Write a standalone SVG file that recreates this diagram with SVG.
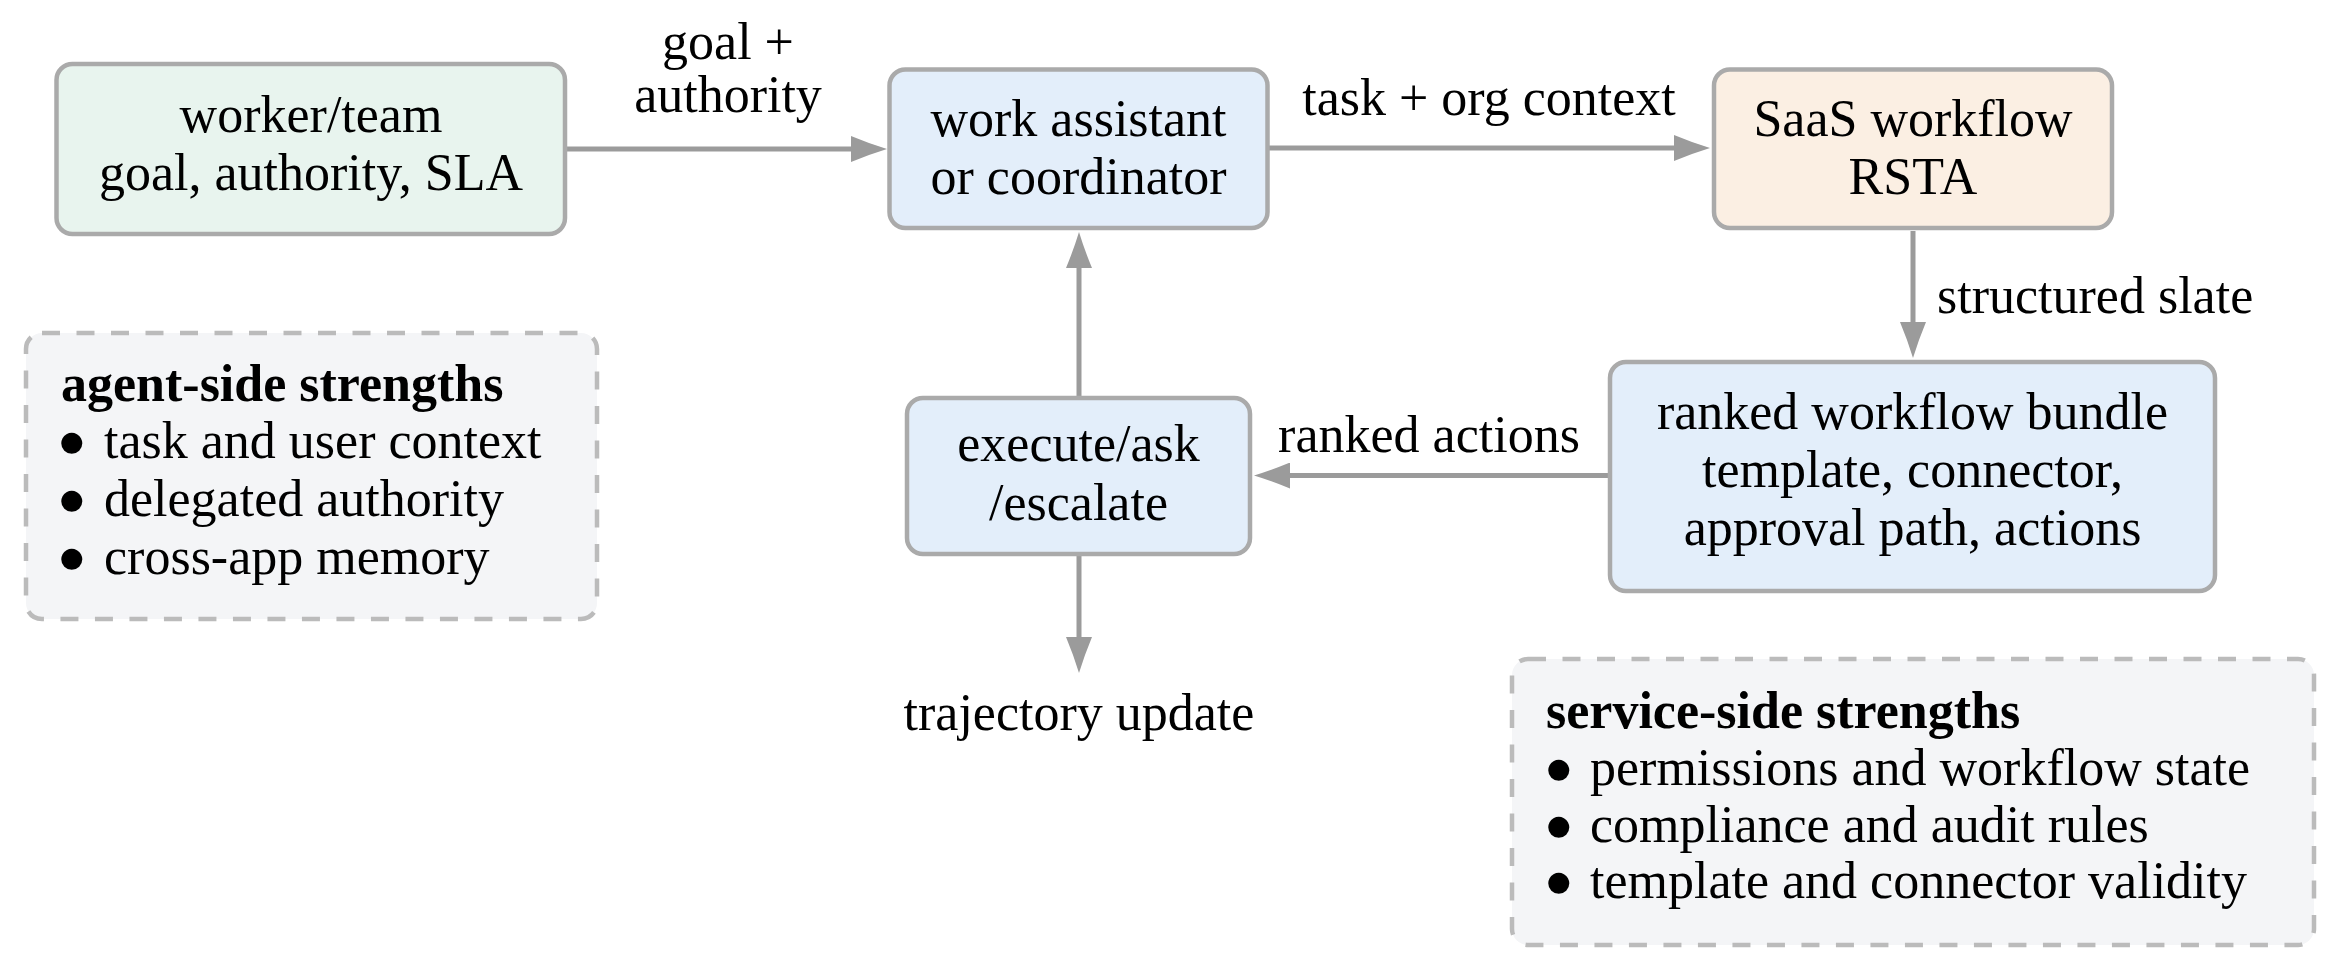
<svg xmlns="http://www.w3.org/2000/svg" width="2333" height="973" viewBox="0 0 2333 973">
<style>
text { font-family: "Liberation Serif", "Times New Roman", serif; font-size: 52px; fill: #000; }
.c { text-anchor: middle; }
.bold { font-weight: bold; }
.box { stroke: #aaaaaa; stroke-width: 4.5; }
.dash { stroke: #bbbbbb; stroke-width: 4.5; stroke-dasharray: 18 16.5; fill: #f4f5f7; }
.green { fill: #e8f4ee; }
.blue { fill: #e3eefa; }
.peach { fill: #fbefe3; }
.conn { stroke: #9b9b9b; stroke-width: 5; fill: none; }
.bul { font-size: 49px; }
</style>
<defs>
<marker id="ah" markerUnits="userSpaceOnUse" viewBox="0 0 36 26" markerWidth="36" markerHeight="26" refX="0" refY="13" orient="auto">
<path d="M0,0 Q18,7.5 36,13 Q18,18.5 0,26 Z" fill="#9b9b9b"/>
</marker>
</defs>
<g id="connectors">
<line class="conn" x1="567" y1="149" x2="851" y2="149" marker-end="url(#ah)"/>
<line class="conn" x1="1269" y1="148" x2="1674" y2="148" marker-end="url(#ah)"/>
<line class="conn" x1="1913" y1="231" x2="1913" y2="322" marker-end="url(#ah)"/>
<line class="conn" x1="1608" y1="475.5" x2="1290" y2="475.5" marker-end="url(#ah)"/>
<line class="conn" x1="1079" y1="396" x2="1079" y2="268" marker-end="url(#ah)"/>
<line class="conn" x1="1079" y1="556" x2="1079" y2="637" marker-end="url(#ah)"/>
<text class="c" x="728" y="59">goal +</text>
<text class="c" x="728" y="112">authority</text>
<text class="c" x="1489" y="115">task + org context</text>
<text x="1937" y="313">structured slate</text>
<text class="c" x="1429" y="452">ranked actions</text>
<text class="c" x="1079" y="730">trajectory update</text>
</g>
<g id="worker">
<rect class="box green" x="56.5" y="64" width="508.5" height="170" rx="16"/>
<text class="c" x="311" y="132">worker/team</text>
<text class="c" x="311" y="190">goal, authority, SLA</text>
</g>
<g id="assistant">
<rect class="box blue" x="889.5" y="69.5" width="378" height="158.5" rx="16"/>
<text class="c" x="1078.5" y="136">work assistant</text>
<text class="c" x="1078.5" y="194">or coordinator</text>
</g>
<g id="saas">
<rect class="box peach" x="1714" y="69.5" width="398" height="158.5" rx="16"/>
<text class="c" x="1913" y="136">SaaS workflow</text>
<text class="c" x="1913" y="194">RSTA</text>
</g>
<g id="bundle">
<rect class="box blue" x="1610" y="362" width="605" height="229" rx="16"/>
<text class="c" x="1912.5" y="429">ranked workflow bundle</text>
<text class="c" x="1912.5" y="487">template, connector,</text>
<text class="c" x="1912.5" y="545">approval path, actions</text>
</g>
<g id="execute">
<rect class="box blue" x="907" y="398" width="343" height="156" rx="16"/>
<text class="c" x="1078.5" y="461">execute/ask</text>
<text class="c" x="1078.5" y="520">/escalate</text>
</g>
<g id="agent-strengths">
<rect class="dash" x="26" y="333" width="571" height="286" rx="16"/>
<text class="bold" x="61" y="401">agent-side strengths</text>
<text><tspan class="bul" x="57" y="457">●</tspan><tspan x="104" y="458">task and user context</tspan></text>
<text><tspan class="bul" x="57" y="515">●</tspan><tspan x="104" y="516">delegated authority</tspan></text>
<text><tspan class="bul" x="57" y="573">●</tspan><tspan x="104" y="574">cross-app memory</tspan></text>
</g>
<g id="service-strengths">
<rect class="dash" x="1512" y="659" width="802" height="286" rx="16"/>
<text class="bold" x="1546" y="728">service-side strengths</text>
<text><tspan class="bul" x="1544" y="784">●</tspan><tspan x="1590" y="785">permissions and workflow state</tspan></text>
<text><tspan class="bul" x="1544" y="841">●</tspan><tspan x="1590" y="842">compliance and audit rules</tspan></text>
<text><tspan class="bul" x="1544" y="897">●</tspan><tspan x="1590" y="898">template and connector validity</tspan></text>
</g>
</svg>
